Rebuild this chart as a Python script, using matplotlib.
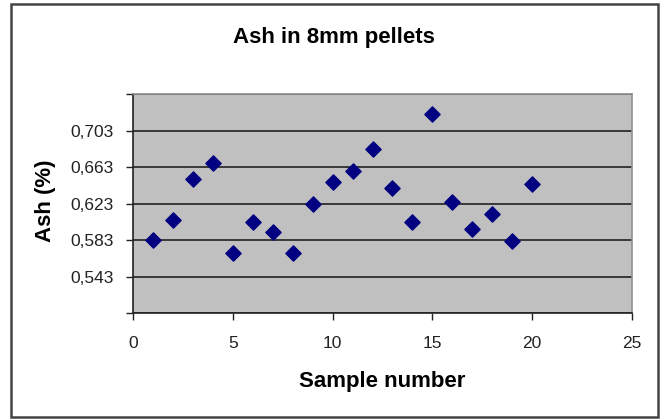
import matplotlib
matplotlib.use("Agg")
import matplotlib.pyplot as plt
from matplotlib.patches import Rectangle
from matplotlib.ticker import FuncFormatter

# Ash content per sample
sample = list(range(1, 21))
ash = [0.5837, 0.6054, 0.6500, 0.6682, 0.5690, 0.6032, 0.5921, 0.5690, 0.6227, 0.6465,
       0.6589, 0.6836, 0.6403, 0.6036, 0.7214, 0.6252, 0.5954, 0.6117, 0.5819, 0.6443]
y_ticks = [0.503, 0.543, 0.583, 0.623, 0.663, 0.703, 0.743]
x_ticks = [0, 5, 10, 15, 20, 25]

plt.rcParams['font.family'] = ['Liberation Sans', 'DejaVu Sans']

fig = plt.figure(figsize=(6.65, 4.2), dpi=100)
ax = fig.add_axes([133 / 665, 1 - 313.3 / 420, (632 - 133) / 665, (313.3 - 94.3) / 420])
ax.set_facecolor('#C0C0C0')

# outer chart frame
fig.patches.append(Rectangle((11 / 665, 1 - 417 / 420), 647 / 665, 413 / 420,
                             transform=fig.transFigure, fill=False,
                             edgecolor='#444444', linewidth=1.8))

ax.scatter(sample, ash, marker='D', s=60, color='#000080', zorder=3)

ax.set_xlim(0, 25)
ax.set_ylim(0.503, 0.743)
ax.set_xticks(x_ticks)
ax.set_yticks(y_ticks)

def ylab(v, pos):
    if abs(v - 0.503) < 1e-6 or abs(v - 0.743) < 1e-6:
        return ''
    return f"{v:.3f}".replace('.', ',')

ax.yaxis.set_major_formatter(FuncFormatter(ylab))
ax.grid(axis='y', color='#222222', linewidth=1.2)
ax.set_axisbelow(True)

for side in ['top', 'right']:
    ax.spines[side].set_color('#909090')
    ax.spines[side].set_linewidth(1.2)
for side in ['left', 'bottom']:
    ax.spines[side].set_color('#222222')
    ax.spines[side].set_linewidth(1.2)

ax.tick_params(axis='both', direction='out', length=5, width=1, color='#222222',
               labelsize=12.5, labelcolor='#222222')
ax.tick_params(axis='x', pad=11)
ax.tick_params(axis='y', pad=9)

ax.set_xlabel('Sample number', fontsize=16, fontweight='bold', labelpad=15)
ax.set_ylabel('Ash (%)', fontsize=16, fontweight='bold')
ax.yaxis.set_label_coords(-0.155, 0.515)
fig.text(334 / 665, 1 - 37 / 420, 'Ash in 8mm pellets', fontsize=16,
         fontweight='bold', ha='center', va='center')

fig.savefig('out.png', dpi=100)
